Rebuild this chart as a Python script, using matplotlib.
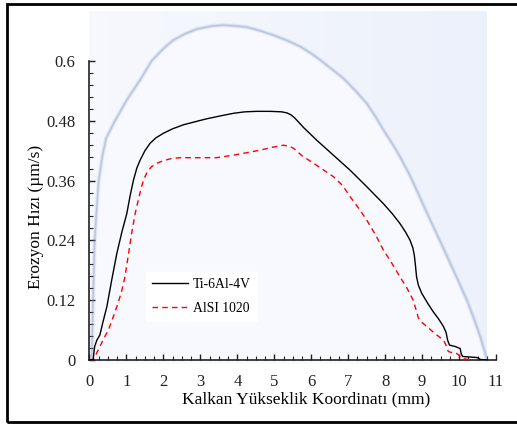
import numpy as np
import matplotlib
matplotlib.use("Agg")
import matplotlib.pyplot as plt
from matplotlib.patches import Rectangle

# ------------------------------------------------------------------
# Data
# ------------------------------------------------------------------
ti_x = [0.0, 0.10, 0.12, 0.14, 0.20, 0.28, 0.36, 0.47, 0.60, 0.74, 0.88, 1.01,
        1.10, 1.19, 1.28, 1.37, 1.50, 1.64, 1.80, 2.00, 2.25, 2.54, 2.85, 3.17,
        3.55, 3.89, 4.20, 4.52, 4.90, 5.20, 5.34, 5.45, 5.55, 5.80, 6.15, 6.60,
        7.05, 7.50, 7.95, 8.20, 8.40, 8.55, 8.67, 8.75, 8.79, 8.82, 8.85, 8.90,
        8.99, 9.15, 9.30, 9.45, 9.58, 9.65, 9.69, 9.74, 9.90, 10.03, 10.06,
        10.10, 10.49, 10.58, 10.76]
ti_y = [0.0, 0.001, 0.015, 0.027, 0.040, 0.050, 0.075, 0.107, 0.160, 0.214,
        0.258, 0.294, 0.330, 0.361, 0.385, 0.401, 0.420, 0.435, 0.446, 0.455,
        0.464, 0.472, 0.478, 0.484, 0.490, 0.495, 0.498, 0.499, 0.499, 0.498,
        0.496, 0.492, 0.486, 0.466, 0.441, 0.411, 0.381, 0.348, 0.314, 0.293,
        0.274, 0.257, 0.241, 0.225, 0.210, 0.190, 0.167, 0.150, 0.134, 0.114,
        0.097, 0.082, 0.067, 0.055, 0.040, 0.030, 0.027, 0.023, 0.012, 0.007,
        0.005, 0.001, 0.0]

aisi_x = [0.0, 0.10, 0.14, 0.20, 0.28, 0.40, 0.51, 0.62, 0.74, 0.86, 0.96, 1.05,
          1.14, 1.23, 1.32, 1.40, 1.46, 1.56, 1.68, 1.83, 2.00, 2.20, 2.45,
          3.00, 3.44, 3.89, 4.25, 4.61, 4.95, 5.25, 5.40, 5.52, 5.75, 6.06,
          6.30, 6.60, 6.85, 7.05, 7.30, 7.50, 7.75, 7.95, 8.20, 8.40, 8.60,
          8.76, 8.84, 8.90, 9.00, 9.13, 9.35, 9.58, 9.66, 9.71, 9.80, 9.94,
          10.02, 10.07, 10.40, 10.76]
aisi_y = [0.0, 0.0, 0.005, 0.015, 0.027, 0.045, 0.060, 0.082, 0.107, 0.135,
          0.167, 0.210, 0.254, 0.292, 0.321, 0.345, 0.361, 0.377, 0.388, 0.395,
          0.400, 0.404, 0.406, 0.406, 0.406, 0.411, 0.416, 0.421, 0.427, 0.431,
          0.429, 0.425, 0.410, 0.395, 0.383, 0.368, 0.350, 0.328, 0.303, 0.281,
          0.250, 0.221, 0.192, 0.167, 0.143, 0.120, 0.100, 0.084, 0.075, 0.067,
          0.053, 0.040, 0.028, 0.017, 0.015, 0.013, 0.008, 0.003, 0.0, 0.0]

# bow-shaped contour of the background flow-field picture
shock_x = [0.06, 0.09, 0.14, 0.20, 0.25, 0.35, 0.45, 0.69, 1.01, 1.37, 1.68,
           2.00, 2.27, 2.60, 2.90, 3.30, 3.62, 4.00, 4.25, 4.60, 4.97, 5.35,
           5.70, 6.00, 6.24, 6.55, 6.87, 7.20, 7.50, 7.75, 7.95, 8.20, 8.40,
           8.65, 8.85, 9.10, 9.30, 9.55, 9.76, 10.00, 10.21, 10.40, 10.57,
           10.68, 10.76]
shock_y = [0.0, 0.10, 0.24, 0.31, 0.36, 0.41, 0.445, 0.48, 0.522, 0.562, 0.600,
           0.625, 0.642, 0.655, 0.664, 0.670, 0.672, 0.670, 0.668, 0.661, 0.652,
           0.641, 0.629, 0.615, 0.602, 0.584, 0.565, 0.540, 0.515, 0.487, 0.462,
           0.433, 0.408, 0.373, 0.341, 0.300, 0.268, 0.228, 0.194, 0.155, 0.120,
           0.083, 0.047, 0.020, 0.0]

x_ticks = [0, 1, 2, 3, 4, 5, 6, 7, 8, 9, 10, 11]
y_ticks = [0, 0.12, 0.24, 0.36, 0.48, 0.6]
y_tick_labels = ["0", "0.12", "0.24", "0.36", "0.48", "0.6"]

# ------------------------------------------------------------------
# Figure
# ------------------------------------------------------------------
plt.rcParams["font.family"] = ["Liberation Serif", "DejaVu Serif"]

fig = plt.figure(figsize=(5.17, 4.24), dpi=100)
ax = fig.add_axes([0.1731, 0.1509, 0.7863, 0.7052])

# background picture: light gradient outside, near-white inside the bow
bg_extent = [0.0, 10.76, -0.006, 0.70]
grad = np.linspace(0, 1, 200)[None, :, None]
c_left = np.array([0.968, 0.974, 0.996])
c_right = np.array([0.925, 0.945, 0.985])
bg = c_left + (c_right - c_left) * grad
bg = np.repeat(bg, 2, axis=0)
ax.imshow(bg, extent=bg_extent, aspect="auto", origin="lower",
          interpolation="bilinear", clip_on=False, zorder=0)
ax.fill_between(shock_x, shock_y, -0.006, color="#f8f9fe", lw=0,
                clip_on=False, zorder=1)
for lw, a in [(3.2, 0.10), (1.9, 0.17), (0.9, 0.27)]:
    ax.plot(shock_x, shock_y, color="#7589bd", lw=lw, alpha=a,
            solid_capstyle="round", solid_joinstyle="round",
            clip_on=False, zorder=2)

ax.plot(ti_x, ti_y, color="black", lw=1.0, label="Ti-6Al-4V", zorder=5,
        solid_joinstyle="round")
ax.plot(aisi_x, aisi_y, color="#ff0000", lw=1.0, ls=(0, (4, 3)),
        label="AlSI 1020", zorder=4)

ax.set_xlim(0, 11)
ax.set_ylim(0, 0.6)
ax.set_xticks(x_ticks)
ax.set_xticks(np.arange(0, 11.01, 0.25), minor=True)
ax.set_yticks(y_ticks)
ax.set_yticklabels(y_tick_labels)
ax.set_yticks(np.arange(0, 0.601, 0.024), minor=True)

for side in ("top", "right"):
    ax.spines[side].set_visible(False)
for side in ("left", "bottom"):
    ax.spines[side].set_linewidth(1.2)
    ax.spines[side].set_color("#222222")
ax.set_facecolor("none")

ax.tick_params(which="major", direction="in", length=4, width=1.0,
               labelsize=12, colors="#222222")
ax.tick_params(which="minor", direction="in", length=3, width=0.8,
               colors="#222222")
ax.tick_params(axis="y", pad=10)
ax.tick_params(axis="x", pad=10)

ax.set_xlabel("Kalkan Yükseklik Koordinatı (mm)", fontsize=12.5)
ax.xaxis.set_label_coords(0.532, -0.105)
ax.set_ylabel("Erozyon Hızı (µm/s)", fontsize=12.5)
ax.yaxis.set_label_coords(-0.112, 0.48)

leg = ax.legend(loc="lower left", bbox_to_anchor=(0.139, 0.13), frameon=True,
                fontsize=9.8, handlelength=2.6, borderpad=0.45,
                labelspacing=0.8, handletextpad=0.4, borderaxespad=0)
leg.get_frame().set_facecolor("white")
leg.get_frame().set_edgecolor("white")
leg.get_frame().set_alpha(1.0)
leg.get_frame().set_boxstyle("square", pad=0)

# outer frame
fig.patches.append(Rectangle((7 / 517, 2 / 424), 1.2, 418 / 424,
                             transform=fig.transFigure, fill=False,
                             edgecolor="black", lw=2.0))

fig.savefig("out.png", dpi=100)
